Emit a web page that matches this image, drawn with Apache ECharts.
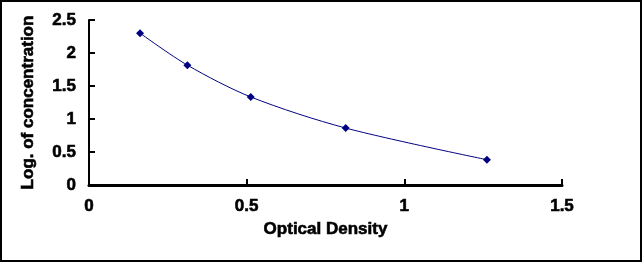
<!DOCTYPE html>
<html>
<head>
<meta charset="utf-8">
<script src="https://cdn.jsdelivr.net/npm/echarts@6/dist/echarts.min.js"></script>
<style>
  html, body { margin: 0; padding: 0; background: #fff; }
  #chart { width: 642px; height: 262px; box-sizing: border-box; border: 2px solid #000; }
</style>
</head>
<body>
<div id="chart"></div>
<script>
// optical density readings and log concentration
const odValues = [0.162, 0.312, 0.513, 0.814, 1.262]
const logConc = [2.30, 1.816, 1.334, 0.863, 0.383]

const xTicks = [0, 0.5, 1, 1.5]
const yTicks = [0, 0.5, 1, 1.5, 2, 2.5]

const chart = echarts.init(document.getElementById('chart'))

// heavy bold text, a thin stroke makes it closer to the original
const labelFont = {
  fontFamily: 'Liberation Sans, Arial, sans-serif',
  fontWeight: 'bold',
  fontSize: 17,
  color: '#000',
  textBorderColor: '#000',
  textBorderWidth: 0.6
}

chart.setOption({
  animation: false,
  grid: { left: 87, top: 18, right: 78, bottom: 75 },
  xAxis: {
    type: 'value',
    min: xTicks[0], max: xTicks[xTicks.length - 1], interval: 0.5,
    name: 'Optical Density',
    nameLocation: 'middle',
    nameGap: 33,
    nameTextStyle: labelFont,
    axisLine: { show: true, onZero: false, lineStyle: { color: '#000', width: 3 } },
    axisTick: { show: true, inside: true, length: 6, lineStyle: { color: '#000', width: 2 } },
    axisLabel: Object.assign({ margin: 13, formatter: v => String(v) }, labelFont),
    splitLine: { show: false }
  },
  yAxis: {
    type: 'value',
    min: yTicks[0], max: yTicks[yTicks.length - 1], interval: 0.5,
    name: 'Log. of concentration',
    nameLocation: 'middle',
    nameGap: 52,
    nameTextStyle: labelFont,
    axisLine: { show: true, onZero: false, lineStyle: { color: '#000', width: 2 } },
    axisTick: { show: true, inside: true, length: 6, lineStyle: { color: '#000', width: 2 } },
    axisLabel: Object.assign({ margin: 13, formatter: v => String(v) }, labelFont),
    splitLine: { show: false }
  },
  series: [{
    type: 'line',
    data: odValues.map((x, i) => [x, logConc[i]]),
    smooth: 0.3,
    symbol: 'diamond',
    symbolSize: 8,
    itemStyle: { color: '#000080' },
    lineStyle: { color: '#000080', width: 1 }
  }]
})
</script>
</body>
</html>
